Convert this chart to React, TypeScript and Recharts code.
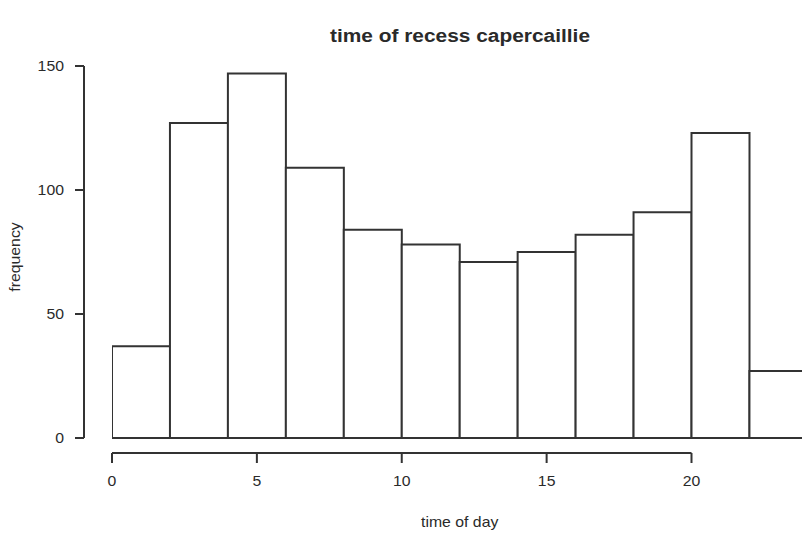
import { BarChart, Bar, XAxis, YAxis } from 'recharts';

// histogram: 2-hour bins, value at bin middle
const hourMids = [1, 3, 5, 7, 9, 11, 13, 15, 17, 19, 21, 23];
const frequencies = [37, 127, 147, 109, 84, 78, 71, 75, 82, 91, 123, 27];
const xTicks = [0, 5, 10, 15, 20];
const yTicks = [0, 50, 100, 150];

const data = hourMids.map((h, i) => ({ hour: h, frequency: frequencies[i] }));

const FONT = '"Liberation Sans", Arial, sans-serif';
const INK = '#2a2a2a';
const LINE = '#333';
const STRETCH = 1.13; // the reference text is a bit wide

const XTick = ({ x, y, payload }: any) => (
  <text transform={`translate(${x},${y}) scale(${STRETCH},1)`} textAnchor="middle" dy="0.71em"
    fontFamily={FONT} fontSize={14} fill={INK}>
    {payload.value}
  </text>
);

const YTick = ({ x, y, payload }: any) => (
  <text transform={`translate(${x},${y}) scale(${STRETCH},1)`} textAnchor="end" dy="0.355em"
    fontFamily={FONT} fontSize={14} fill={INK}>
    {payload.value}
  </text>
);

export default function App() {
  return (
    <div style={{ position: 'fixed', left: 0, top: 0, width: 802, height: 533, overflow: 'hidden', background: '#fff' }}>
      <BarChart width={820} height={533} data={data} barCategoryGap={0} barGap={0}
        margin={{ top: 66, right: 12.6, bottom: 0, left: 0 }}>
        <XAxis dataKey="hour" type="number" domain={[0, 24]} ticks={xTicks} allowDataOverflow
          padding={{ left: 28 }} height={80} tickSize={10} tickMargin={13}
          axisLine={{ stroke: LINE, strokeWidth: 2, strokeDasharray: '0 28 579.5 1000' }}
          tickLine={{ stroke: LINE, strokeWidth: 2 }} tick={<XTick />} />
        <YAxis domain={[0, 150]} ticks={yTicks} width={84} padding={{ bottom: 15 }}
          tickSize={9} tickMargin={11}
          axisLine={{ stroke: LINE, strokeWidth: 2, strokeDasharray: '372 1000' }}
          tickLine={{ stroke: LINE, strokeWidth: 2 }} tick={<YTick />} />
        <Bar dataKey="frequency" fill="#fff" stroke={LINE} strokeWidth={2} isAnimationActive={false} />
        <text transform={`translate(460,42) scale(${STRETCH},1)`} textAnchor="middle"
          fontFamily={FONT} fontSize={18.5} fontWeight="bold" fill={INK}>
          time of recess capercaillie
        </text>
        <text transform={`translate(459.7,527) scale(${STRETCH},1)`} textAnchor="middle"
          fontFamily={FONT} fontSize={14} fill={INK}>
          time of day
        </text>
        <text transform={`translate(20,257) rotate(-90) scale(${STRETCH},1)`} textAnchor="middle"
          fontFamily={FONT} fontSize={14} fill={INK}>
          frequency
        </text>
      </BarChart>
    </div>
  );
}
